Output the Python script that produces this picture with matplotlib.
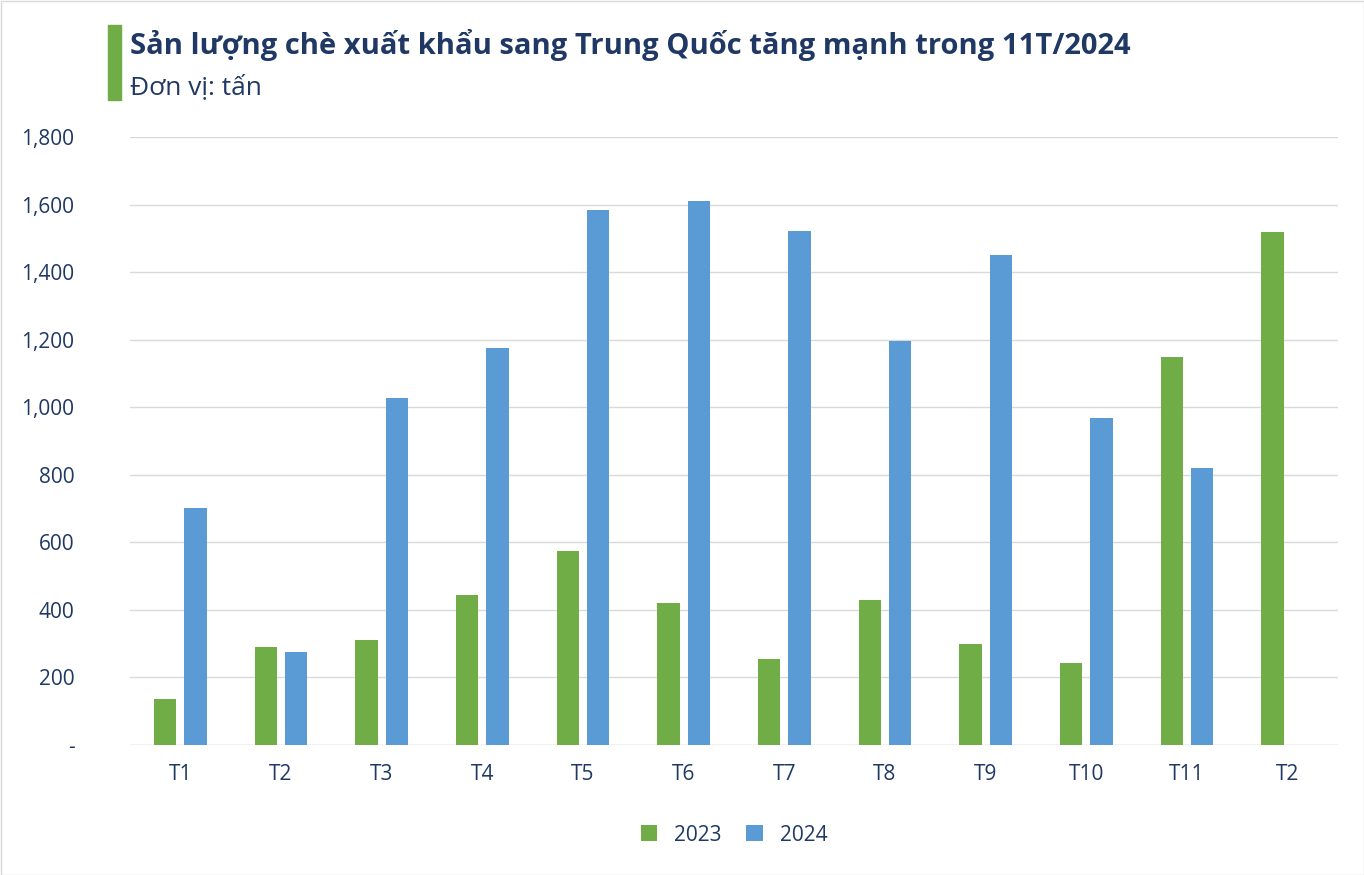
import matplotlib
matplotlib.use("Agg")
import matplotlib.pyplot as plt
import numpy as np
from matplotlib.patches import Rectangle

categories = ["T1","T2","T3","T4","T5","T6","T7","T8","T9","T10","T11","T2"]
v2023 = [135, 290, 310, 445, 575, 420, 255, 428, 298, 242, 1148, 1520]
v2024 = [703, 275, 1027, 1175, 1585, 1610, 1523, 1195, 1450, 968, 820, np.nan]
yticks = [0, 200, 400, 600, 800, 1000, 1200, 1400, 1600, 1800]
ylabels = ["-", "200", "400", "600", "800", "1,000", "1,200", "1,400", "1,600", "1,800"]

plt.rcParams['font.family'] = ['Open Sans', 'DejaVu Sans']
W, H = 1364, 875
fig = plt.figure(figsize=(W/100, H/100), dpi=100)
ax = fig.add_axes([130/W, 1-745/H, (1338-130)/W, (745-137)/H])
green, blue = "#70AD47", "#5B9BD5"
x = np.arange(len(categories))
w = 0.22
ax.bar(x-0.15, v2023, w, color=green, label="2023", zorder=3)
ax.bar(x+0.15, v2024, w, color=blue, label="2024", zorder=3)
ax.set_xlim(-0.5, len(categories)-0.5)
ax.set_ylim(0, 1800)
ax.set_yticks(yticks)
ax.set_yticklabels(ylabels, fontsize=15, color="#1F3864")
ax.set_xticks(x)
ax.set_xticklabels(categories, fontsize=15, color="#1F3864")
ax.tick_params(length=0, pad=14)
ax.tick_params(axis='y', pad=40)
for lab in ax.get_yticklabels():
    lab.set_horizontalalignment('right')
    lab.set_x(-0.0)
ax.grid(axis='y', color="#D9D9D9", lw=1, zorder=0)
for s in ax.spines.values():
    s.set_visible(False)
ax.axhline(0, color="#D9D9D9", lw=1)
leg = ax.legend(loc="upper center", bbox_to_anchor=(0.5, -0.1), ncol=2, frameon=False,
                fontsize=15, handlelength=0.8, handleheight=0.8, columnspacing=1.2)
for t in leg.get_texts():
    t.set_color("#1F3864")

fig.patches.append(Rectangle((108/W, 1-100/H), 13/W, 75/H, transform=fig.transFigure, color=green))
fig.patches.append(Rectangle((0.5/W, 0.5/H), 1-1/W, 1-1/H, transform=fig.transFigure,
                             fill=False, edgecolor="#D9D9D9", lw=1))
fig.text(130/W, 1-45/H, "Sản lượng chè xuất khẩu sang Trung Quốc tăng mạnh trong 11T/2024",
         fontsize=21, fontweight='bold', color="#1F3864", va='center')
fig.text(130/W, 1-87/H, "Đơn vị: tấn", fontsize=19, color="#1F3864", va='center')
fig.savefig("out.png", dpi=100)
